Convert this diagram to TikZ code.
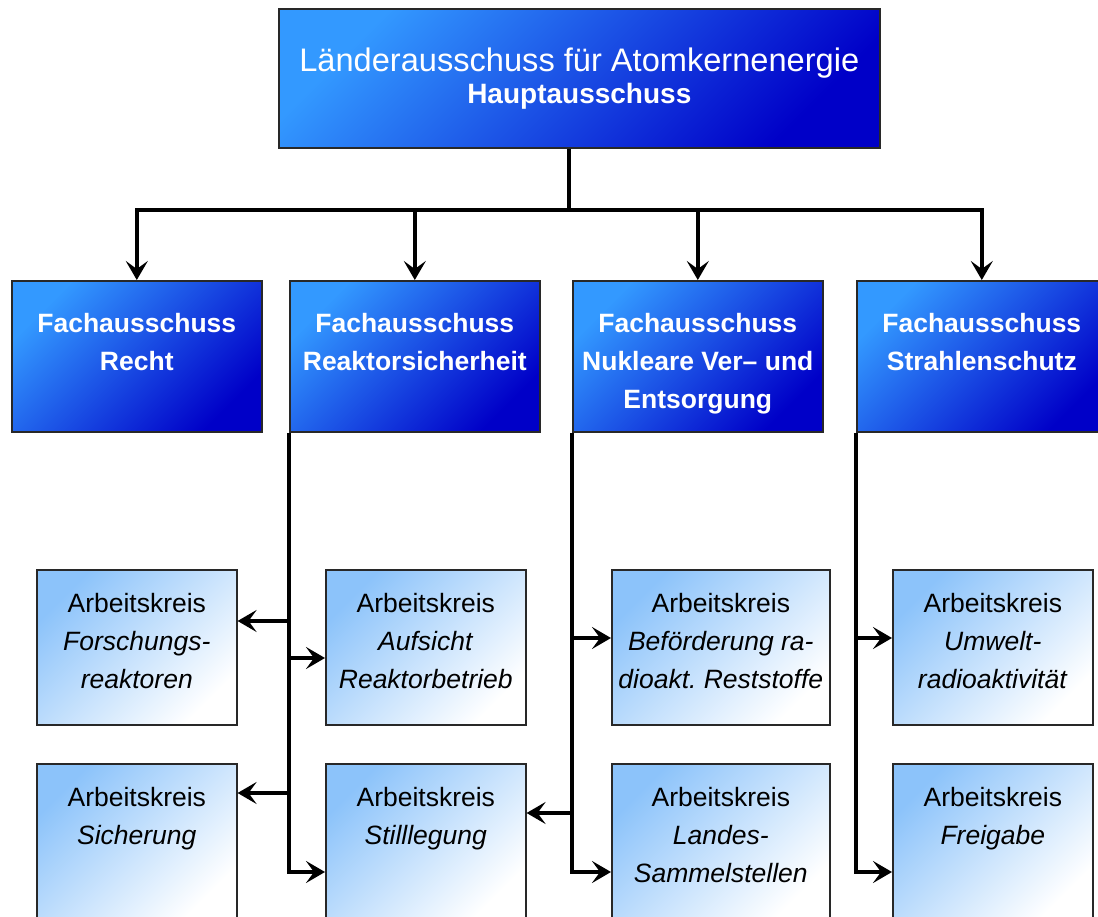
\documentclass[tikz,border=0pt]{standalone}
\usepackage{fontspec}
\setmainfont{Liberation Sans}
\usepackage{tikz}
\usetikzlibrary{arrows.meta, positioning}
\tikzset{>={Stealth[length=19pt,width=22pt,inset=8pt]}}
\definecolor{fachhell}{RGB}{51,153,255}
\definecolor{fachdunkel}{RGB}{0,0,200}
\definecolor{akhell}{RGB}{140,195,250}
\definecolor{rahmen}{RGB}{40,40,40}
\newcommand\topfont{\fontsize{32.6}{32}\selectfont}
\newcommand\fachfont{\fontsize{26.5}{38}\selectfont\bfseries}
\newcommand\akfont{\fontsize{26.5}{38}\selectfont}
\frenchspacing

\begin{document}
\begin{tikzpicture}[x=1pt, y=-1pt,
    box/.style={draw=rahmen, line width=1.6pt, inner sep=0pt, anchor=north west},
    fach/.style={box, top color=fachhell, bottom color=fachdunkel, shading angle=45,
        minimum width=250pt, minimum height=151pt},
    ak/.style={box, top color=akhell, bottom color=white, shading angle=45,
        minimum width=200pt, minimum height=155pt},
    fachtext/.style={text=white, font=\fachfont, align=center, inner sep=0pt},
    aktext/.style={font=\akfont, align=center, inner sep=0pt},
    conn/.style={line width=3.4pt}]
            \useasboundingbox[fill=white] (0,0) rectangle (1098,917);
            \clip (0,0) rectangle (1098,917);
            % Hauptausschuss
            \node[fach, minimum width=601pt, minimum height=139pt] (haupt) at (278,8) {};
            \node[fachtext, font=\topfont, below=40pt of haupt.north] (haupt-t)
                {Länderausschuss für Atomkernenergie\\{\fontsize{28}{32}\selectfont\bfseries Hauptausschuss}};
            % Fachausschuesse
            \node[fach] (recht) at (11,280) {};
            \node[fach] (rsk) at (289,280) {};
            \node[fach] (nve) at (572,280) {};
            \node[fach] (ssz) at (856,280) {};
            \node[fachtext, below=33pt of recht.north] (recht-t) {Fachausschuss\\Recht};
            \node[fachtext, below=33pt of rsk.north] (rsk-t) {Fachausschuss\\Reaktorsicherheit};
            \node[fachtext, below=33pt of nve.north] (nve-t) {Fachausschuss\\Nukleare Ver– und\\Entsorgung};
            \node[fachtext, below=33pt of ssz.north] (ssz-t) {Fachausschuss\\Strahlenschutz};
            % Arbeitskreise
            \node[ak] (forschung) at (36,569) {};
            \node[ak] (aufsicht) at (325,569) {};
            \node[ak, minimum width=218pt] (befoerderung) at (611,569) {};
            \node[ak] (umwelt) at (892,569) {};
            \node[ak] (sicherung) at (36,763) {};
            \node[ak] (stilllegung) at (325,763) {};
            \node[ak, minimum width=218pt] (sammel) at (611,763) {};
            \node[ak] (freigabe) at (892,763) {};
            \node[aktext, below=24pt of forschung.north] (forschung-t) {Arbeitskreis\\\textit{Forschungs-}\\\textit{reaktoren}};
            \node[aktext, below=24pt of aufsicht.north] (aufsicht-t) {Arbeitskreis\\\textit{Aufsicht}\\\textit{Reaktorbetrieb}};
            \node[aktext, below=24pt of befoerderung.north] (befoerderung-t) {Arbeitskreis\\\textit{Beförderung ra-}\\\textit{dioakt. Reststoffe}};
            \node[aktext, below=24pt of umwelt.north] (umwelt-t) {Arbeitskreis\\\textit{Umwelt-}\\\textit{radioaktivität}};
            \node[aktext, below=24pt of sicherung.north] (sicherung-t) {Arbeitskreis\\\textit{Sicherung}};
            \node[aktext, below=24pt of stilllegung.north] (stilllegung-t) {Arbeitskreis\\\textit{Stilllegung}};
            \node[aktext, below=24pt of sammel.north] (sammel-t) {Arbeitskreis\\\textit{Landes-}\\\textit{Sammelstellen}};
            \node[aktext, below=24pt of freigabe.north] (freigabe-t) {Arbeitskreis\\\textit{Freigabe}};
            % Verbindungen oben
            \coordinate (split) at (569,210);
            \draw[conn] (haupt.south -| split) -- (split);
            \foreach \f in {recht,rsk,nve,ssz}
                \draw[conn,->] (split) -| (\f.north);
            % Hoehen der Abzweige
            \coordinate (l1) at (0,621);
            \coordinate (l2) at (0,658);
            \coordinate (l3) at (0,638);
            \coordinate (l4) at (0,793);
            \coordinate (l5) at (0,813);
            \coordinate (l6) at (0,872);
            % Reaktorsicherheit
            \draw[conn,->] (rsk.south west) |- (stilllegung.west |- l6);
            \draw[conn,->] (rsk.south west |- l1) -- (forschung.east |- l1);
            \draw[conn,->] (rsk.south west |- l2) -- (aufsicht.west |- l2);
            \draw[conn,->] (rsk.south west |- l4) -- (sicherung.east |- l4);
            % Ver- und Entsorgung
            \draw[conn,->] (nve.south west) |- (sammel.west |- l6);
            \draw[conn,->] (nve.south west |- l3) -- (befoerderung.west |- l3);
            \draw[conn,->] (nve.south west |- l5) -- (stilllegung.east |- l5);
            % Strahlenschutz
            \draw[conn,->] (ssz.south west) |- (freigabe.west |- l6);
            \draw[conn,->] (ssz.south west |- l3) -- (umwelt.west |- l3);
        \end{tikzpicture}
\end{document}
